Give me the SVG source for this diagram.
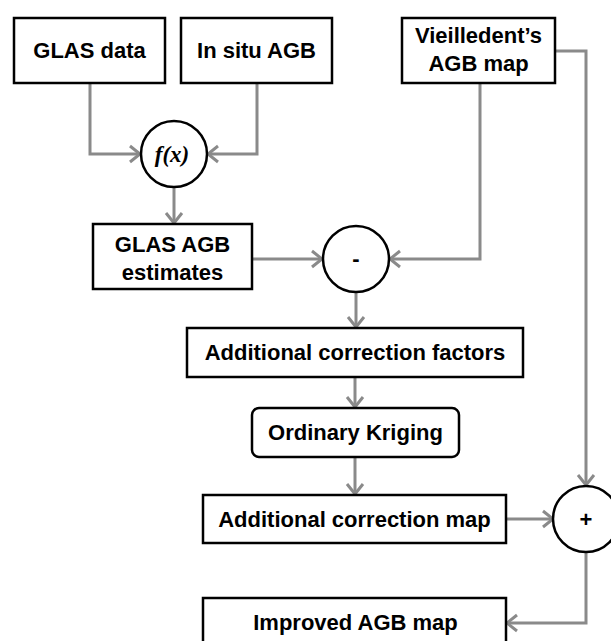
<svg xmlns="http://www.w3.org/2000/svg" width="611" height="641" viewBox="0 0 611 641">
<style>
.box{fill:#fff;stroke:#000;stroke-width:2.5}
.circ{fill:#fff;stroke:#000;stroke-width:2.5}
.lbl{font-family:"Liberation Sans",Arial,sans-serif;font-weight:bold;font-size:22px;fill:#000;text-anchor:middle}
.fx{font-family:"Liberation Serif","Times New Roman",serif;font-style:italic;font-weight:bold;font-size:23px;fill:#000;text-anchor:middle}
.con{fill:none;stroke:#8a8a8a;stroke-width:3;marker-end:url(#arr)}
</style>
<defs>
<marker id="arr" markerUnits="userSpaceOnUse" markerWidth="16" markerHeight="20" viewBox="0 0 16 20" refX="13" refY="10" orient="auto">
<path d="M3,2 L13,10 L3,18" fill="none" stroke="#8a8a8a" stroke-width="3"/>
</marker>
</defs>
<rect width="611" height="641" fill="#fff"/>
<g id="connectors">
<path class="con" d="M90,83 V154 H140"/>
<path class="con" d="M257,83 V154 H208"/>
<path class="con" d="M174,187 V223"/>
<path class="con" d="M252,259 H322"/>
<path class="con" d="M480,83 V259 H390"/>
<path class="con" d="M356,292 V327"/>
<path class="con" d="M355,377 V407"/>
<path class="con" d="M355,457 V494"/>
<path class="con" d="M506,519 H553"/>
<path class="con" d="M555,51 H586 V485"/>
<path class="con" d="M586,552 V623 H507"/>
</g>
<g id="glas-data">
<rect class="box" x="14" y="18" width="151" height="65"/>
<text class="lbl" x="89.5" y="58">GLAS data</text>
</g>
<g id="in-situ-agb">
<rect class="box" x="181" y="18" width="151" height="65"/>
<text class="lbl" x="256.5" y="58">In situ AGB</text>
</g>
<g id="vieilledent">
<rect class="box" x="402" y="18" width="153" height="65"/>
<text class="lbl" x="478.5" y="43">Vieilledent’s</text>
<text class="lbl" x="478.5" y="71">AGB map</text>
</g>
<g id="fx">
<circle class="circ" cx="174" cy="154" r="33"/>
<text class="fx" x="172" y="162">f(x)</text>
</g>
<g id="glas-agb-estimates">
<rect class="box" x="93" y="224" width="159" height="65"/>
<text class="lbl" x="172.5" y="252">GLAS AGB</text>
<text class="lbl" x="172.5" y="280">estimates</text>
</g>
<g id="minus">
<circle class="circ" cx="356" cy="259" r="33"/>
<text class="lbl" x="356" y="266">-</text>
</g>
<g id="correction-factors">
<rect class="box" x="187" y="328" width="336" height="49"/>
<text class="lbl" x="355" y="360">Additional correction factors</text>
</g>
<g id="kriging">
<rect class="box" x="252" y="408" width="207" height="49" rx="7" ry="7"/>
<text class="lbl" x="355.5" y="440">Ordinary Kriging</text>
</g>
<g id="correction-map">
<rect class="box" x="203" y="495" width="303" height="48"/>
<text class="lbl" x="354.5" y="527">Additional correction map</text>
</g>
<g id="plus">
<circle class="circ" cx="586" cy="519" r="33"/>
<text class="lbl" x="586" y="527">+</text>
</g>
<g id="improved-agb-map">
<rect class="box" x="203" y="598" width="303" height="50"/>
<text class="lbl" x="355.5" y="630">Improved AGB map</text>
</g>
</svg>
